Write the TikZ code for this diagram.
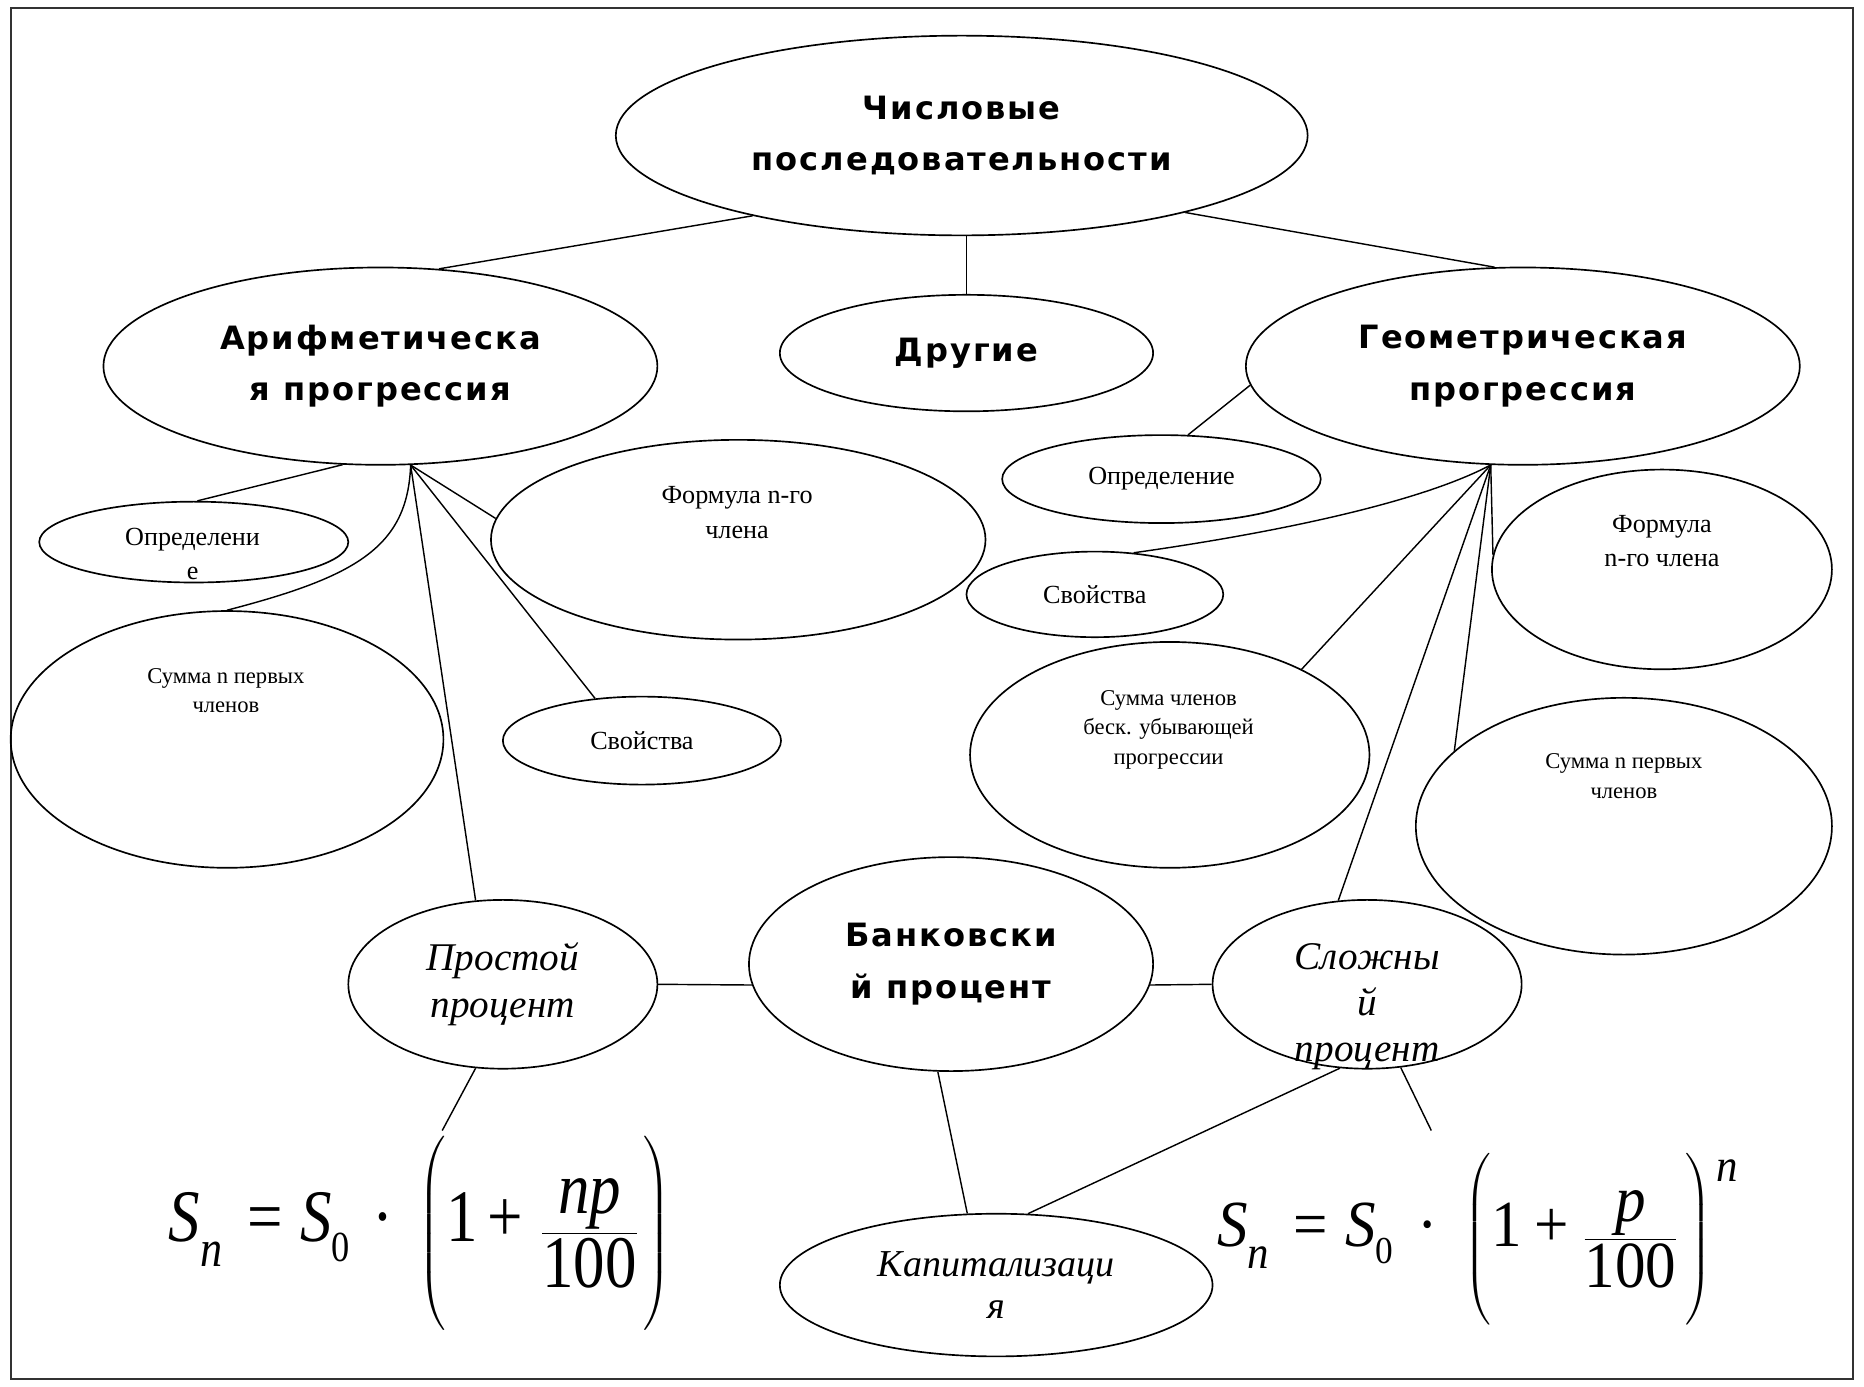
\documentclass[tikz,border=0pt]{standalone}
\usepackage{amsmath}
\usepackage{fontspec}
\usepackage{graphicx}
\usetikzlibrary{shapes.geometric}
\setmainfont{Liberation Serif}
\newfontfamily\headfont[LetterSpace=6]{DejaVu Sans}
\newfontfamily\eqfont[FakeStretch=0.88]{Liberation Serif}
\newcommand{\tu}[1]{\mathord{\hbox{\eqfont #1}}}
\newcommand{\ti}[1]{\mathord{\hbox{\eqfont\itshape #1}}}
\newcommand{\subn}{\hbox{\eqfont\itshape\fontsize{40}{40}\selectfont n}}
\newcommand{\subz}{\hbox{\eqfont\fontsize{33}{33}\selectfont 0}}
\begin{document}
\begin{tikzpicture}[x=1pt,y=-1pt,
  ell/.style={draw, ellipse, inner sep=0pt, line width=1.4pt},
  big/.style={font=\headfont\bfseries\fontsize{27}{43}\selectfont, align=center},
  small/.style={font=\fontsize{22}{29}\selectfont, align=center},
  tiny/.style={font=\fontsize{19}{25}\selectfont, align=center},
  ital/.style={font=\itshape\fontsize{33}{40}\selectfont, align=center},
  txt/.style={inner sep=0pt},
  conn/.style={line width=1.2pt},
  formula/.style={inner sep=0pt, font=\fontsize{57}{60}\selectfont}]
\useasboundingbox (0,0) rectangle (1568,1166);
\draw[line width=1.6pt, black!80] (9,7) rectangle (1559,1160);

% main nodes
\node[ell, big, minimum width=582pt, minimum height=168pt] (num) at (809,114) {Числовые\\последовательности};
\node[ell, big, minimum width=466pt, minimum height=166pt] (arith) at (320,308) {Арифметическа\\я прогрессия};
\node[ell, big, minimum width=314pt, minimum height=98pt] (other) at (813,297) {Другие};
\node[ell, big, minimum width=466pt, minimum height=166pt] (geom) at (1281,308) {Геометрическая\\прогрессия};

% arithmetic children
\node[ell, minimum width=260pt, minimum height=68pt] (defA) at (163,456) {};
\node[txt, small] (defAt) at (162,466) {Определени\\е};
\node[ell, minimum width=416pt, minimum height=168pt] (formA) at (621,454) {};
\node[txt, small] (formAt) at (620,431) {Формула n-го\\члена};
\node[ell, minimum width=364pt, minimum height=216pt] (sumA) at (191,622) {};
\node[txt, tiny] (sumAt) at (190,581) {Сумма n первых\\членов};
\node[ell, small, minimum width=234pt, minimum height=74pt] (propA) at (540,623) {Свойства};

% geometric children
\node[ell, small, minimum width=268pt, minimum height=74pt] (defG) at (977,403) {Определение};
\node[ell, small, minimum width=216pt, minimum height=72pt] (propG) at (921,500) {Свойства};
\node[ell, minimum width=286pt, minimum height=168pt] (formG) at (1398,479) {};
\node[txt, small] (formGt) at (1398,455) {Формула\\n-го члена};
\node[ell, minimum width=336pt, minimum height=190pt] (sumInf) at (984,635) {};
\node[txt, tiny] (sumInft) at (983,614) {Сумма членов\\беск. убывающей\\прогрессии};
\node[ell, minimum width=350pt, minimum height=216pt] (sumG) at (1366,695) {};
\node[txt, tiny] (sumGt) at (1366,653) {Сумма n первых\\членов};

% bank part
\node[ell, ital, minimum width=260pt, minimum height=142pt] (simple) at (423,828) {Простой\\процент};
\node[ell, big, minimum width=340pt, minimum height=180pt] (bank) at (800,811) {Банковски\\й процент};
\node[ell, minimum width=260pt, minimum height=142pt] (compound) at (1150,828) {};
\node[txt, ital, font=\itshape\fontsize{33}{38.5}\selectfont] (compoundt) at (1150,847) {Сложны\\й\\процент};
\node[ell, ital, font=\itshape\fontsize{32}{35}\selectfont, minimum width=364pt, minimum height=120pt] (cap) at (838,1081) {Капитализаци\\я};

% formulas
\node[formula] (fS) at (353,1038) {\resizebox*{422pt}{164pt}{$\ti{S}\lower19pt\subn\hskip20pt\tu{=}\hskip14pt\ti{S}\lower15pt\subz\hskip18pt\tu{·}\hskip16pt\left(\rule[-69pt]{0pt}{150pt}\tu{1}\hskip8pt\tu{+}\hskip14pt\dfrac{\ti{np}}{\tu{100}}\hskip4pt\right)$}};
\node[formula] (fC) at (1243,1042.5) {\resizebox*{438pt}{145pt}{$\ti{S}\lower19pt\subn\hskip20pt\tu{=}\hskip14pt\ti{S}\lower15pt\subz\hskip20pt\tu{·}\hskip18pt\left(\rule[-64pt]{0pt}{140pt}\tu{1}\hskip10pt\tu{+}\hskip12pt\dfrac{\ti{p}}{\tu{100}}\hskip6pt\right)\raise56pt\subn$}};

% helper coordinates
\coordinate (apexA) at (arith.287);
\coordinate (apexG) at (geom.252);
\coordinate (endA) at (372,951);
\coordinate (endG) at (1204,951);

% connectors
\draw[conn] (num.201) -- (arith.59);
\draw[conn] (num.341) -- (geom.106);
\draw[conn] (other.north) -- (other.north |- num.south);

\draw[conn] (arith.249) -- (defA.85);
\draw[conn] (apexA) .. controls (343,460) and (300,485) .. (sumA.north);
\draw[conn] (apexA) -- (formA.175);
\draw[conn] (apexA) -- (propA.138);
\draw[conn] (apexA) -- (simple.108);

\draw[conn] (geom.184) -- (defG.59);
\draw[conn] (apexG) .. controls (1190,425) and (1060,450) .. (propG.47);
\draw[conn] (apexG) -- (sumInf.33);
\draw[conn] (apexG) -- (compound.109);
\draw[conn] (apexG) -- (sumG.156);
\draw[conn] (apexG) -- (formG.175);

\draw[conn] (simple.east) -- (bank.186);
\draw[conn] (bank.354) -- (compound.west);
\draw[conn] (simple.252) -- (endA);
\draw[conn] (bank.263) -- (cap.112);
\draw[conn] (compound.252) -- (cap.66);
\draw[conn] (compound.292) -- (endG);
\end{tikzpicture}
\end{document}
